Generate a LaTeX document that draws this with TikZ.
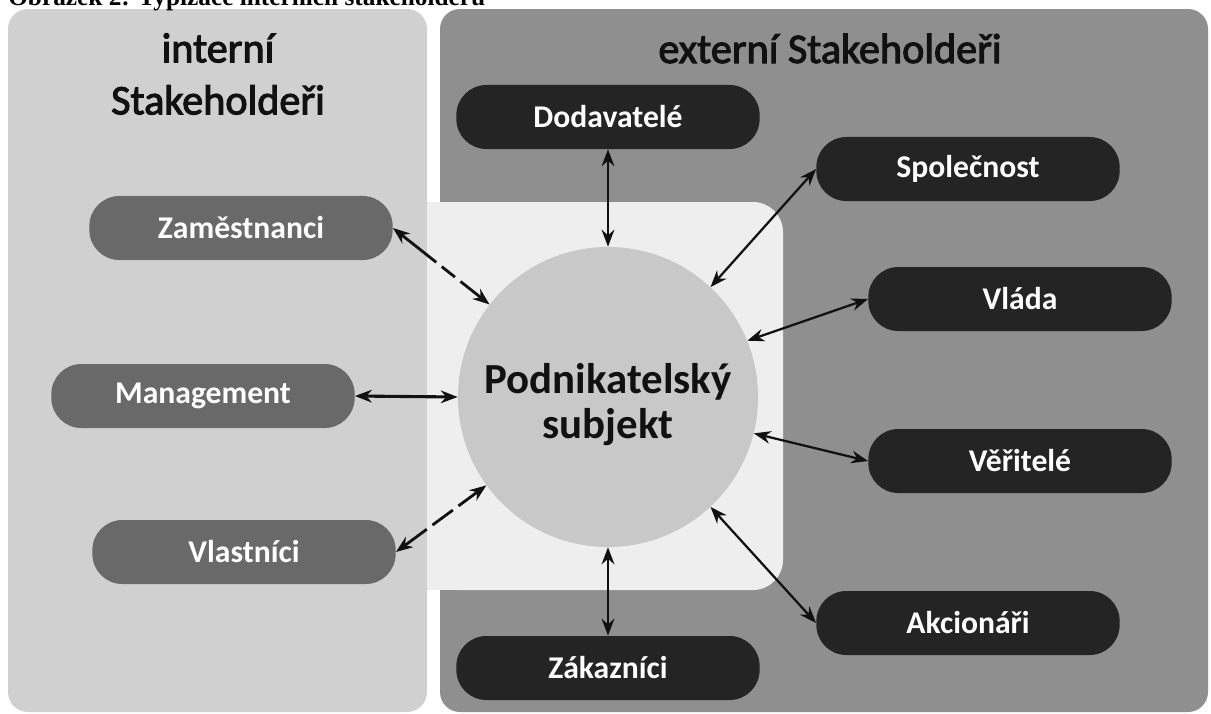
\documentclass[tikz,border=0pt]{standalone}
\usepackage{fontspec}
\setmainfont{Carlito}
\newfontfamily\capfont{Liberation Serif}
\newfontfamily\titlefont[FakeBold=2.5]{Carlito}
\usepackage{xcolor}
\usetikzlibrary{arrows.meta}

\definecolor{intBg}{HTML}{D0D0D0}
\definecolor{extBg}{HTML}{8F8F8F}
\definecolor{coreBg}{HTML}{EEEEEE}
\definecolor{subjFill}{HTML}{C8C8C8}
\definecolor{intBox}{HTML}{696969}
\definecolor{extBox}{HTML}{242424}
\definecolor{ink}{HTML}{111111}

\tikzset{
	panel/.style = {rounded corners = 0.5cm},
	title/.style = {text = ink, inner sep = 0pt, font = \titlefont\fontsize{30}{37}\selectfont},
	intbox/.style = {fill = intBox, rounded corners = 0.75cm, minimum width = 7.58cm, minimum height = 1.6cm,
		inner sep = 0pt, text = white, font = \fontsize{22.5}{26}\selectfont\bfseries},
	extbox/.style = {intbox, fill = extBox},
	subject/.style = {circle, fill = subjFill, minimum size = 7.5cm, inner sep = 0pt}
}

\begin{document}
\begin{tikzpicture}[x = 0.025cm, y = -0.025cm]
	\def\W{1211};
	\def\H{713};
	\clip (0,0) rectangle (\W,\H);
	\fill[white] (0,0) rectangle (\W,\H);

	% backgrounds
	\begin{scope}
		\fill[intBg, panel] (8,9) rectangle (427,712);
		\fill[extBg, panel] (440,9) rectangle (1208,712);
		\fill[coreBg, rounded corners = 0.75cm] (427,202) rectangle (783,590);
		\fill[coreBg] (427,202) rectangle (520,590);
	\end{scope}

	\node[anchor = base west, inner sep = 0pt, font = \capfont\bfseries\fontsize{18}{20}\selectfont] (caption) at (8,5) {Obrázek 2: Typizace interních stakeholderů};

	\node[title, align = center] (inttitle) at (218,74) {interní\\Stakeholdeři};
	\node[title, anchor = base] (exttitle) at (830,63) {externí Stakeholdeři};

	% center
	\node[subject] (subj) at (608,397) {};
	\node[text = ink, inner sep = 0pt, align = center, font = \fontsize{30.5}{32}\selectfont\bfseries] (subjtext) at (608,405) {Podnikatelský\\subjekt};

	% stakeholders
	\foreach \nm/\x/\y/\txt in {zam/241/228/Zaměstnanci, mgmt/203/396/Management, vlast/244/552/Vlastníci}
	{
		\node[intbox] (\nm) at (\x,\y) {\txt};
	}

	\foreach \nm/\x/\y/\txt in {dod/608/117/Dodavatelé, spol/968/169/Společnost, vlada/1020/299/Vláda, veri/1020/461/Věřitelé, akc/968/623/Akcionáři, zak/608/668/Zákazníci}
	{
		\node[extbox] (\nm) at (\x,\y) {\txt};
	}

	% relations
	\begin{scope}[<->, >={Stealth[length = 12pt, width = 9pt]}, draw = ink, line width = 1.6pt]
		\draw[line width = 2pt] (dod.south) -- (subj.north);
		\draw[line width = 2pt] (zak.north) -- (subj.south);
		\draw[line width = 2.2pt] (mgmt.east) -- (subj.west);
		\draw[line width = 2pt, dash pattern = on 32pt off 5pt on 12pt off 5pt on 40pt] (zam.east) -- (subj.142);
		\draw[line width = 2pt, dash pattern = on 20pt off 5pt on 18pt off 5pt on 40pt] (vlast.east) -- (subj.216);
		\draw (spol.west) -- (subj.47);
		\draw (vlada.west) -- (subj.22);
		\draw (veri.west) -- (subj.346);
		\draw (akc.west) -- (subj.313);
	\end{scope}
\end{tikzpicture}
\end{document}
